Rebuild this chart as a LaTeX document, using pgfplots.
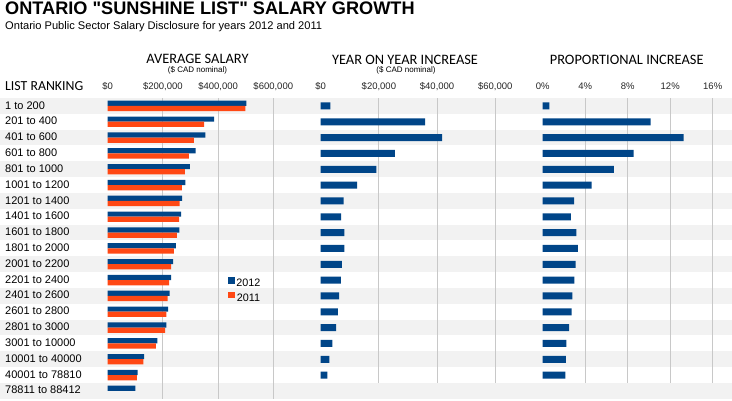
\documentclass[border=0pt]{standalone}
\usepackage{fontspec}
\setmainfont{Liberation Sans}
\newfontfamily\plainsans{Liberation Sans}[Ligatures=TeXOff]
\newfontfamily\hdr{Carlito}
\usepackage{pgfplots}
\usepackage{pgfplotstable}
\pgfplotsset{compat=1.18}

\definecolor{c2012}{RGB}{0,69,136}
\definecolor{c2011}{RGB}{255,72,20}
\definecolor{band}{RGB}{242,242,242}
\definecolor{gridc}{RGB}{200,200,200}

% average salary, both years (row 19 has no 2011 value)
\pgfplotstableread{
row y2012  y2011
1   502700 499000
2   385600 349000
3   354000 312000
4   319000 294000
5   298000 280000
6   281000 269000
7   270000 261000
8   266000 259000
9   260000 251000
10  247000 240000
11  237000 230000
12  230000 223000
13  224000 217000
14  219000 213000
15  213000 208000
16  180000 175000
17  132000 129000
18  108000 106000
19  100000 nan
}\avg

% year on year increase ($) and proportional increase (%)
\pgfplotstableread{
row inc   pct
1   3300  0.62
2   35900 10.16
3   41700 13.27
4   25500 8.56
5   19100 6.71
6   12500 4.61
7   7900  2.95
8   7000  2.66
9   8100  3.16
10  8100  3.32
11  7300  3.10
12  6900  2.97
13  6300  2.79
14  5900  2.73
15  5300  2.48
16  4000  2.22
17  3000  2.19
18  2300  2.13
}\incr

\pgfplotsset{
  rowaxis/.style={
    scale only axis,
    anchor=north west,
    y dir=reverse,
    xmin=0,
    scaled x ticks=false,
    axis line style={draw=none},
    major tick length=0pt,
    minor tick length=0pt,
    xticklabel pos=upper,
    xticklabel style={anchor=base, yshift=8.5pt, inner sep=0pt,
      font=\fontsize{9.5}{10}\selectfont, text=black!85},
    xminorgrids=true,
    minor grid style={gridc, line width=0.9pt},
    clip=false,
  },
}

\begin{document}
\begin{tikzpicture}[x=1pt,y=1pt]
\useasboundingbox (0,0) rectangle (732,400);

% alternating row bands
\foreach \i in {1,3,...,19}{
  \fill[band] (0,{302-15.83*(\i-1)}) rectangle (732,{302-15.83*\i});
}

% titles
\node[anchor=base west, inner sep=0pt, font=\plainsans\bfseries\fontsize{18.15}{20}\selectfont] at (5,385) {ONTARIO "SUNSHINE LIST" SALARY GROWTH};
\node[anchor=base west, inner sep=0pt, font=\fontsize{11.1}{12}\selectfont] at (5,370.7) {Ontario Public Sector Salary Disclosure for years 2012 and 2011};

\node[anchor=base, inner sep=0pt, font=\hdr\fontsize{14.4}{15}\selectfont] at (197.5,336.7) {AVERAGE SALARY};
\node[anchor=base, inner sep=0pt, font=\fontsize{8}{8}\selectfont] at (197.5,327) {(\$ CAD nominal)};
\node[anchor=base, inner sep=0pt, font=\hdr\fontsize{14.4}{15}\selectfont] at (405,335.7) {YEAR ON YEAR INCREASE};
\node[anchor=base, inner sep=0pt, font=\fontsize{8}{8}\selectfont] at (406,327) {(\$ CAD nominal)};
\node[anchor=base, inner sep=0pt, font=\hdr\fontsize{14.4}{15}\selectfont] at (626.7,335.7) {PROPORTIONAL INCREASE};
\node[anchor=base west, inner sep=0pt, font=\hdr\fontsize{13.8}{15}\selectfont] at (5,309.3) {LIST RANKING};

% average salary
\begin{axis}[rowaxis,
  at={(107.7pt,302pt)}, width=165.6pt, height=300.8pt,
  xmax=600000, ymin=0.5, ymax=19.5,
  xtick={0,200000,400000,600000},
  xticklabels={\$0,{\$200,000},{\$400,000},{\$600,000}},
  minor xtick={200000,400000,600000},
  ytick={1,...,19},
  yticklabels={1 to 200,201 to 400,401 to 600,601 to 800,801 to 1000,1001 to 1200,1201 to 1400,1401 to 1600,1601 to 1800,1801 to 2000,2001 to 2200,2201 to 2400,2401 to 2600,2601 to 2800,2801 to 3000,3001 to 10000,10001 to 40000,40001 to 78810,78811 to 88412},
  yticklabel style={anchor=base west, inner sep=0pt, xshift=-102.7pt, yshift=-3.1pt,
    font=\fontsize{11}{12}\selectfont},
  legend style={at={(0.71,0.4116)}, anchor=north west, draw=none, fill=none,
    font=\fontsize{10.8}{12}\selectfont, row sep=2.5pt,
    nodes={inner sep=1.5pt}},
  legend image code/.code={\fill[#1] (0pt,-0.3pt) rectangle (6.5pt,6.2pt);},
]
\addplot[xbar, bar width=5.2pt, bar shift=2.6pt, fill=c2012, draw=none] table[x=y2012, y=row]{\avg};
\addplot[xbar, bar width=5.2pt, bar shift=-2.6pt, fill=c2011, draw=none] table[x=y2011, y=row]{\avg};
\legend{2012,2011}
\end{axis}

% year on year increase
\begin{axis}[rowaxis,
  at={(320.7pt,302pt)}, width=174.6pt, height=285pt,
  xmax=60000, ymin=0.5, ymax=18.5,
  xtick={0,20000,40000,60000},
  xticklabels={\$0,{\$20,000},{\$40,000},{\$60,000}},
  minor xtick={20000,40000,60000},
  ytick=\empty,
]
\addplot[xbar, bar width=7pt, bar shift=0pt, fill=c2012, draw=none] table[x=inc, y=row]{\incr};
\end{axis}

% proportional increase
\begin{axis}[rowaxis,
  at={(542.7pt,302pt)}, width=170pt, height=285pt,
  xmax=16, ymin=0.5, ymax=18.5,
  xtick={0,4,8,12,16},
  xticklabels={0\%,4\%,8\%,12\%,16\%},
  minor xtick={4,8,12,16},
  ytick=\empty,
]
\addplot[xbar, bar width=7pt, bar shift=0pt, fill=c2012, draw=none] table[x=pct, y=row]{\incr};
\end{axis}
\end{tikzpicture}
\end{document}
